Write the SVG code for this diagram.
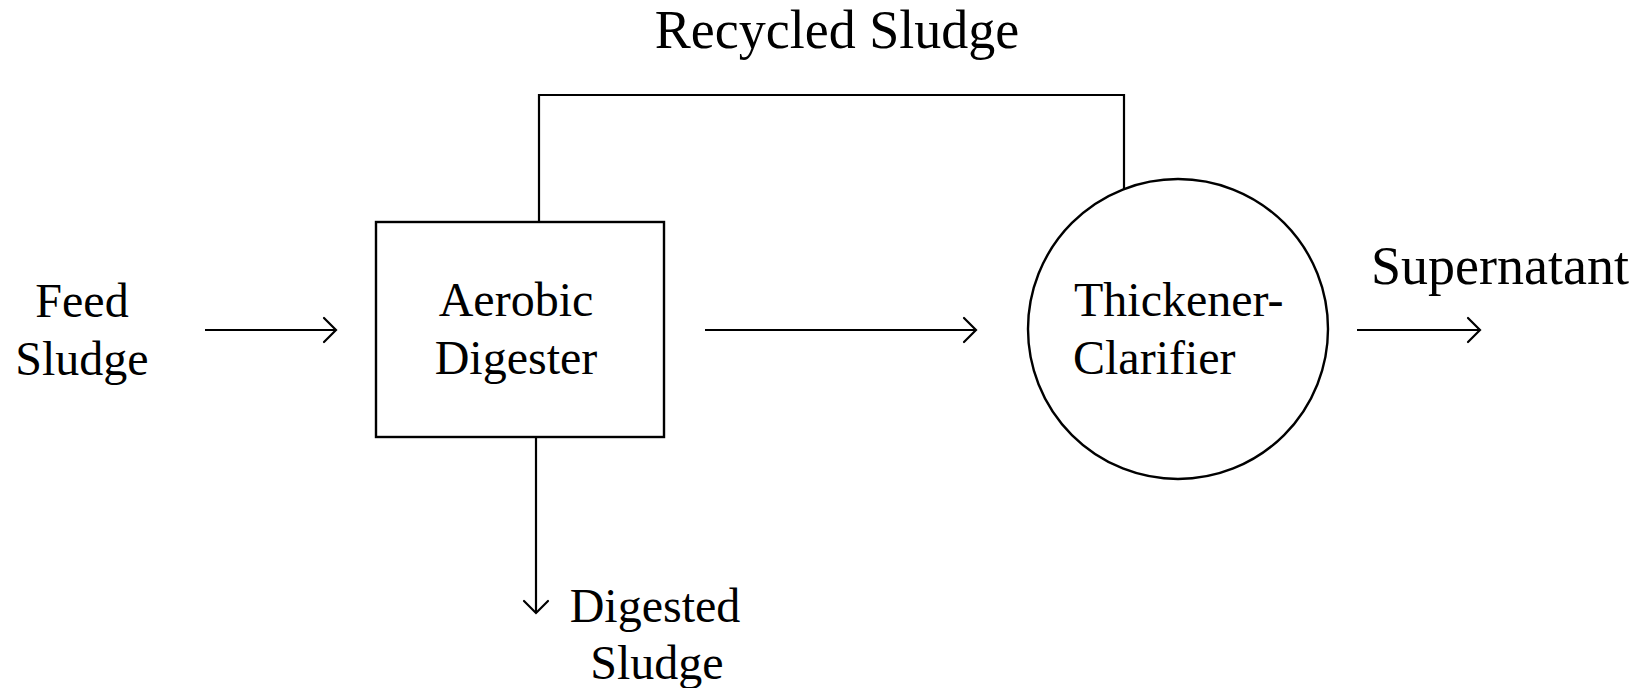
<svg xmlns="http://www.w3.org/2000/svg" width="1646" height="688" viewBox="0 0 1646 688">
<style>
text{font-family:"Liberation Serif","Times New Roman",serif;font-size:48px;fill:#000;text-anchor:middle}
text.big{font-size:54px}
text.left{text-anchor:start}
.line{fill:none;stroke:#000;stroke-width:2.2}
.shape{fill:#fff;stroke:#000;stroke-width:2.4}
.head{fill:none;stroke:#000;stroke-width:2.2;stroke-linecap:round;stroke-linejoin:miter}
</style>
<rect width="1646" height="688" fill="#fff"/>
<g id="connectors">
<path class="line" d="M205 330 H336"/><path class="head" d="M324 318 L336 330 L324 342"/>
<path class="line" d="M705 330 H976"/><path class="head" d="M964 318 L976 330 L964 342"/>
<path class="line" d="M1357 330 H1480"/><path class="head" d="M1468 318 L1480 330 L1468 342"/>
<path class="line" d="M536 437 V613"/><path class="head" d="M524 601 L536 613 L548 601"/>
<path class="line" d="M539 222 V95 H1124 V194"/>
<text class="big" x="837" y="48">Recycled Sludge</text>
</g>
<g id="feed"><text x="82" y="317">Feed</text><text x="82" y="375">Sludge</text></g>
<g id="digester">
<rect class="shape" x="376" y="222" width="288" height="215"/>
<text x="516" y="316">Aerobic</text><text x="516" y="374">Digester</text>
</g>
<g id="clarifier">
<circle class="shape" cx="1178" cy="329" r="150"/>
<text class="left" x="1074" y="316">Thickener-</text><text class="left" x="1073" y="374">Clarifier</text>
</g>
<g id="supernatant"><text class="big" x="1500" y="284">Supernatant</text></g>
<g id="digested"><text x="655" y="622">Digested</text><text x="657" y="679">Sludge</text></g>
</svg>
